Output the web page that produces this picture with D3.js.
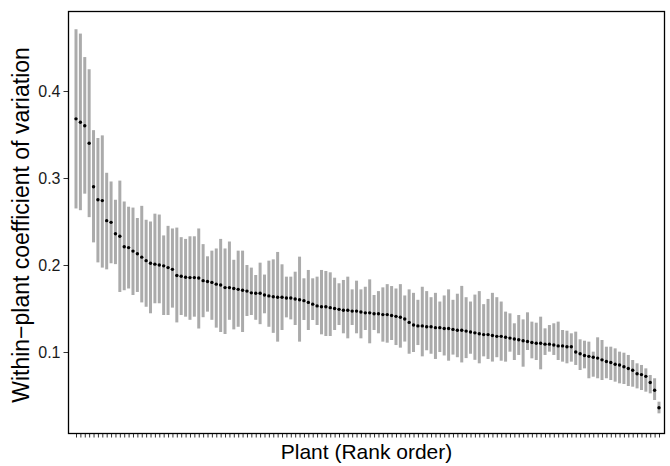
<!DOCTYPE html>
<html><head><meta charset="utf-8">
<script src="https://cdn.jsdelivr.net/npm/d3@7"></script>
<style>body{margin:0;background:#fff}svg{display:block}</style>
</head><body>
<svg id="chart" width="670" height="466"></svg>
<script>
// Rank-ordered within-plant coefficient of variation (mean, upper, lower)
const meanVals = [
0.368,0.364,0.360,0.340,0.290,0.275,0.274,0.251,0.249,0.236,0.233,0.221,0.220,0.216,0.213,0.209,0.205,
0.202,0.201,0.200,0.199,0.197,0.195,0.188,0.187,0.186,0.1855,0.1855,0.185,0.182,0.181,0.180,0.178,0.177,0.174,0.174,0.173,0.172,0.171,0.170,0.168,0.1675,0.1675,0.1655,0.1645,0.1635,
0.163,0.163,0.162,0.162,0.161,0.160,0.159,0.157,0.155,0.153,0.152,0.152,0.151,0.150,0.149,0.148,0.148,0.147,0.147,0.146,0.145,0.145,0.144,0.144,0.143,0.143,0.142,0.141,
0.140,0.138,0.134,0.131,0.130,0.130,0.129,0.129,0.128,0.128,0.127,0.127,0.126,0.125,0.125,0.124,0.123,0.122,0.121,0.120,0.120,0.119,0.118,0.118,
0.117,0.116,0.115,0.114,0.113,0.112,0.111,0.110,0.110,0.109,0.109,0.108,0.107,0.107,0.106,0.106,0.100,0.098,0.096,0.095,0.094,0.093,0.091,0.089,0.088,0.086,0.085,0.083,0.081,0.079,0.075,0.074,0.072,0.065,0.056,0.036
];
const upperVals = [
0.471,0.466,0.439,0.425,0.355,0.346,0.349,0.306,0.296,0.275,0.297,0.273,0.267,0.266,0.254,0.268,0.252,
0.250,0.259,0.258,0.234,0.245,0.242,0.243,0.232,0.230,0.233,0.233,0.242,0.224,0.210,0.2165,0.219,0.230,0.219,0.227,0.206,0.2165,0.2165,0.200,0.197,0.1885,0.2027,0.189,0.205,0.2065,
0.215,0.2008,0.1866,0.1866,0.1923,0.2096,0.1847,0.1943,0.1847,0.1866,0.1943,0.1931,0.1916,0.1854,0.179,0.1828,0.1866,0.172,0.182,0.172,0.175,0.1835,0.1655,0.170,0.1743,0.178,0.1758,0.173,
0.178,0.165,0.172,0.168,0.160,0.175,0.170,0.163,0.168,0.158,0.165,0.172,0.160,0.167,0.176,0.163,0.158,0.166,0.170,0.155,0.161,0.168,0.163,0.158,
0.1464,0.1444,0.133,0.1425,0.1375,0.1456,0.1349,0.1337,0.1406,0.1272,0.131,0.133,0.1349,0.1253,0.1245,0.1215,0.1234,0.1146,0.113,0.1119,0.1004,0.1169,0.1138,0.1061,0.1061,0.1042,0.1004,0.0992,0.0966,0.0908,0.087,0.0851,0.0812,0.0736,0.0698,0.0429
];
const lowerVals = [
0.265,0.263,0.282,0.255,0.226,0.203,0.197,0.195,0.202,0.201,0.169,0.171,0.173,0.1655,0.169,0.157,0.152,
0.1445,0.156,0.156,0.1425,0.1425,0.151,0.134,0.1425,0.1406,0.137,0.1406,0.127,0.140,0.1464,0.137,0.128,0.123,0.1207,0.137,0.126,0.129,0.123,0.1414,0.1425,0.137,0.132,0.1445,0.129,0.122,
0.1119,0.1253,0.1398,0.1375,0.131,0.1119,0.1368,0.1253,0.1368,0.131,0.1203,0.1184,0.1184,0.1253,0.131,0.1215,0.1157,0.131,0.1215,0.1157,0.1253,0.110,0.1253,0.1215,0.1119,0.1107,0.1138,0.108,
0.105,0.112,0.098,0.100,0.108,0.095,0.102,0.098,0.092,0.100,0.096,0.090,0.097,0.094,0.088,0.093,0.098,0.091,0.087,0.095,0.092,0.089,0.094,0.090,
0.0889,0.1004,0.0908,0.0966,0.0831,0.1023,0.0927,0.0908,0.0801,0.0966,0.1004,0.0966,0.0908,0.0889,0.087,0.0889,0.0851,0.0793,0.0812,0.0698,0.0716,0.0698,0.0678,0.0698,0.0678,0.0659,0.064,0.0632,0.0609,0.0601,0.0582,0.0563,0.0544,0.0525,0.0448,0.0295
];
const plants = meanVals.map((d, i) => i + 1);
const yTicks = [0.1, 0.2, 0.3, 0.4];
const xTitle = "Plant (Rank order)";
const yTitle = "Within\u2212plant coefficient of variation";

const data = plants.map((p, i) => ({p, m: meanVals[i], hi: upperVals[i], lo: lowerVals[i]}));

const svg = d3.select("#chart");
const L = 68.5, R = 664.5, T = 11.5, B = 433.5;
const font = "'Liberation Sans', Arial, Helvetica, sans-serif";

const x = d3.scalePoint().domain(plants).range([76, 659]);
const y = d3.scaleLinear().domain([(439 - B) / 870, (439 - T) / 870]).range([B, T]);

// error bars
svg.append("g").selectAll("line").data(data).join("line")
  .attr("x1", d => x(d.p)).attr("x2", d => x(d.p))
  .attr("y1", d => y(d.lo)).attr("y2", d => y(d.hi))
  .attr("stroke", "#ababab").attr("stroke-width", 3);

// points
svg.append("g").selectAll("circle").data(data).join("circle")
  .attr("cx", d => x(d.p)).attr("cy", d => y(d.m)).attr("r", 1.7)
  .attr("fill", "#000");

// axes
const xAxis = svg.append("g").attr("transform", `translate(0,${B})`)
  .call(d3.axisBottom(x).tickFormat("").tickSize(4).tickSizeOuter(0));
xAxis.select(".domain").remove();
xAxis.selectAll(".tick line").attr("stroke", "#333").attr("stroke-width", 1);

const yAxis = svg.append("g").attr("transform", `translate(${L},0)`)
  .call(d3.axisLeft(y).tickValues(yTicks).tickFormat(d3.format(".1f")).tickSize(5).tickSizeOuter(0));
yAxis.select(".domain").remove();
yAxis.selectAll(".tick line").attr("stroke", "#333").attr("stroke-width", 1);
yAxis.selectAll(".tick text").attr("font-family", font).attr("font-size", 16)
  .attr("fill", "#1a1a1a").attr("x", -8);

// panel border
svg.append("rect").attr("x", L).attr("y", T).attr("width", R - L).attr("height", B - T)
  .attr("fill", "none").attr("stroke", "#000").attr("stroke-width", 1.3);

// titles
svg.append("text").attr("x", (L + R) / 2).attr("y", 459).attr("text-anchor", "middle")
  .attr("font-family", font).attr("font-size", 21).attr("fill", "#000").text(xTitle);
svg.append("text").attr("transform", `translate(29,225) rotate(-90)`)
  .attr("text-anchor", "middle").attr("font-family", font).attr("font-size", 23)
  .attr("fill", "#000").text(yTitle);
</script>
</body></html>
